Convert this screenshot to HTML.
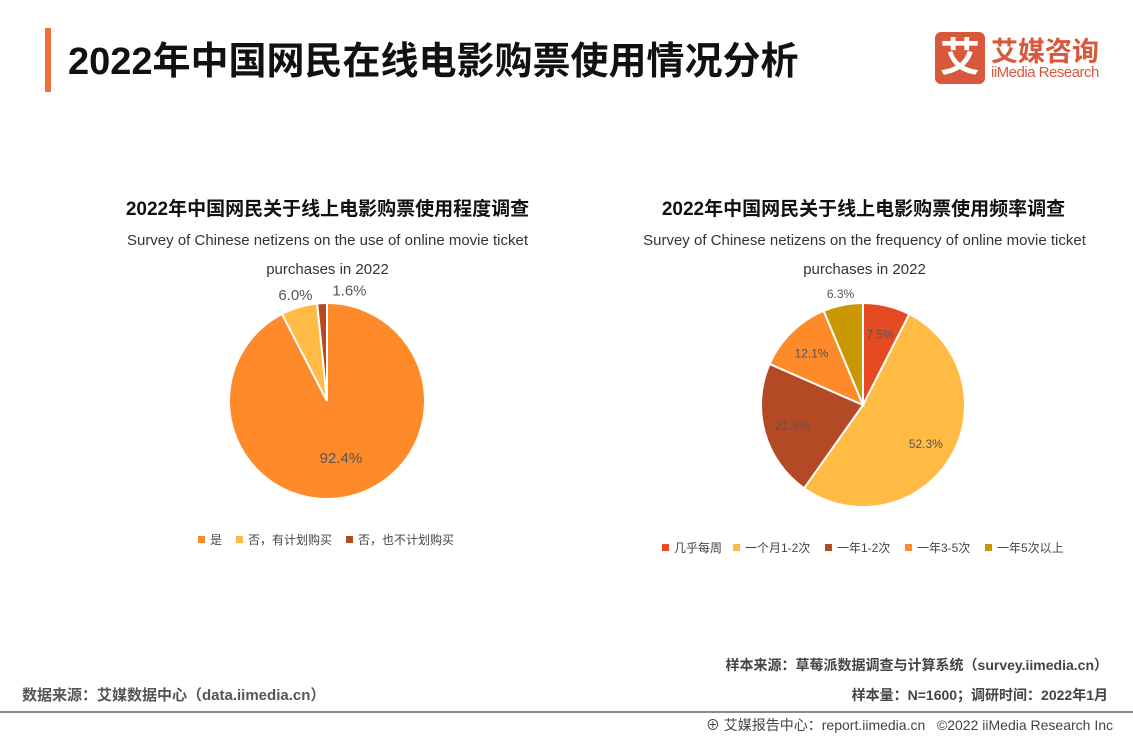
<!DOCTYPE html>
<html><head><meta charset="utf-8"><style>
body{margin:0;width:1133px;height:737px;background:#fff;font-family:"Liberation Sans","Noto Sans CJK SC",sans-serif;position:relative;overflow:hidden}
.a{position:absolute;white-space:nowrap}
</style></head><body>
<div class="a" style="left:45px;top:28px;width:6px;height:64px;background:#F26B38"></div>
<div class="a" style="left:68px;top:30px;font-size:38px;font-weight:bold;color:#111;letter-spacing:0px">2022年中国网民在线电影购票使用情况分析</div>
<div class="a" style="left:935px;top:32px;width:50px;height:52px;background:#D9573A;border-radius:6px;color:#fff;font-size:40px;font-weight:bold;text-align:center;line-height:52px">艾</div>
<div class="a" style="left:991px;top:30px;font-size:27px;font-weight:bold;color:#D9573A">艾媒咨询</div>
<div class="a" style="left:991px;top:64px;font-size:15px;color:#D9573A;letter-spacing:-0.5px">iiMedia Research</div>

<div class="a" style="left:100px;top:194px;width:455px;text-align:center;font-size:19px;font-weight:bold;color:#111">2022年中国网民关于线上电影购票使用程度调查</div>
<div class="a" style="left:100px;top:226px;width:455px;text-align:center;font-size:15px;color:#333;white-space:normal;line-height:29px">Survey of Chinese netizens on the use of online movie ticket purchases in 2022</div>
<div class="a" style="left:636px;top:194px;width:455px;text-align:center;font-size:19px;font-weight:bold;color:#111">2022年中国网民关于线上电影购票使用频率调查</div>
<div class="a" style="left:612px;top:226px;width:505px;text-align:center;font-size:15px;color:#333;white-space:normal;line-height:29px">Survey of Chinese netizens on the frequency of online movie ticket purchases in 2022</div>

<svg class="a" style="left:0;top:0" width="1133" height="737" id="svg"></svg>

<div class="a" style="right:25px;top:655px;font-size:14px;font-weight:bold;color:#444">样本来源：草莓派数据调查与计算系统（survey.iimedia.cn）</div>
<div class="a" style="right:25px;top:685px;font-size:14px;font-weight:bold;color:#444">样本量：N=1600；调研时间：2022年1月</div>
<div class="a" style="left:22px;top:684px;font-size:15px;font-weight:bold;color:#555">数据来源：艾媒数据中心（data.iimedia.cn）</div>
<div class="a" style="left:0;top:711px;width:1133px;height:2px;background:#888"></div>
<div class="a" style="right:20px;top:715px;font-size:14px;color:#444">⊕ 艾媒报告中心：report.iimedia.cn &nbsp;&nbsp;©2022 iiMedia Research Inc</div>

<script>
const cats1=["是","否，有计划购买","否，也不计划购买"];
const vals1=[92.4,6.0,1.6];
const cols1=["#FF8A2A","#FFBB44","#B34A25"];
const cats2=["几乎每周","一个月1-2次","一年1-2次","一年3-5次","一年5次以上"];
const vals2=[7.5,52.3,21.8,12.1,6.3];
const cols2=["#E64A22","#FFBB44","#B34A25","#FF8A2A","#C99700"];
const svg=document.getElementById('svg');const NS="http://www.w3.org/2000/svg";
function mk(t,a){const e=document.createElementNS(NS,t);for(const k in a)e.setAttribute(k,a[k]);svg.appendChild(e);return e;}
function pie(name,vals,cols,cx,cy,r,labelFn,fs,spread){
 const tot=vals.reduce((a,b)=>a+b,0);let s=0;
 vals.forEach((v,i)=>{
  const a0=s/tot*2*Math.PI,a1=(s+v)/tot*2*Math.PI;s+=v;
  const p=a=>[cx+r*Math.sin(a),cy-r*Math.cos(a)];
  const [x0,y0]=p(a0),[x1,y1]=p(a1);
  const path=mk('path',{d:`M${cx},${cy}L${x0},${y0}A${r},${r} 0 ${a1-a0>Math.PI?1:0} 1 ${x1},${y1}Z`,fill:cols[i],stroke:'#fff','stroke-width':2});
  
  
  const am=(a0+a1)/2,lr=labelFn(v,i)*r;
  let lx=cx+lr*Math.sin(am);
  if(spread && lr>r && i===vals.length-1) lx+=28;
  const t=mk('text',{x:lx,y:cy-lr*Math.cos(am)+5,'text-anchor':'middle','font-size':fs,fill:'#555'});
  t.textContent=v.toFixed(1)+'%';
  
  
 });
}
pie('pie1',vals1,cols1,327,401,98,v=>v>50?0.6:1.13,15,true);
pie('pie2',vals2,cols2,863,405,102,(v,i)=>v<7?1.12:0.72,12,false);
function legend(name,cats,cols,x,y,gap){
 cats.forEach((c,i)=>{
  const r=mk('rect',{x:x,y:y-4,width:7,height:7,fill:cols[i]});
  
  
  const t=mk('text',{x:x+12,y:y+4,'font-size':12,fill:'#444'});
  t.textContent=c;
  
  
  x+=12+c.length*12+(c.match(/[0-9\-]/g)||[]).length*-5+gap;
 });
}
legend('pie1',cats1,cols1,198,540,14);
legend('pie2',cats2,cols2,662,548,11);
</script>
</body></html>
